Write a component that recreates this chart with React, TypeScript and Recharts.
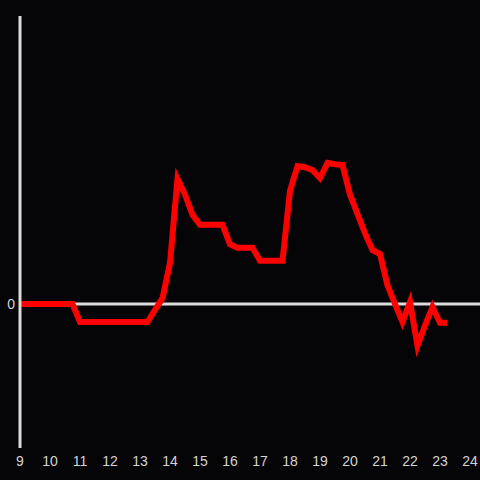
import { LineChart, Line, XAxis, YAxis, ReferenceLine } from 'recharts';

// 15-minute samples
const HOURS = [
  9, 9.25, 9.5, 9.75, 10, 10.25, 10.5, 10.75, 11, 11.25, 11.5, 11.75, 12, 12.25, 12.5, 12.75,
  13, 13.25, 13.5, 13.75, 14, 14.25, 14.5, 14.75, 15, 15.25, 15.5, 15.75, 16, 16.25, 16.5,
  16.75, 17, 17.25, 17.5, 17.75, 18, 18.25, 18.5, 18.75, 19, 19.25, 19.5, 19.75, 20, 20.25,
  20.5, 20.75, 21, 21.25, 21.5, 21.75, 22, 22.25, 22.5, 22.75, 23, 23.25,
];
const VALUES = [
  0, 0, 0, 0, 0, 0, 0, 0, -0.125, -0.125, -0.125, -0.125, -0.125, -0.125, -0.125, -0.125,
  -0.125, -0.125, -0.04, 0.04, 0.285, 0.87, 0.76, 0.62, 0.55, 0.55, 0.55, 0.55, 0.415, 0.39,
  0.39, 0.39, 0.3, 0.3, 0.3, 0.3, 0.785, 0.958, 0.95, 0.93, 0.875, 0.98, 0.97, 0.965, 0.76,
  0.625, 0.49, 0.375, 0.347, 0.13, 0.0, -0.125, 0.014, -0.29, -0.15, -0.02, -0.13, -0.13,
];
const X_TICKS = [9, 10, 11, 12, 13, 14, 15, 16, 17, 18, 19, 20, 21, 22, 23, 24];
const Y_TICKS = [0];

const data = HOURS.map((h, i) => ({ hour: h, value: VALUES[i] }));

const tickStyle = { fill: '#d4d4d4', fontSize: 14, fontFamily: 'Liberation Sans, Arial, sans-serif' };

export default function App() {
  return (
    <div style={{ position: 'absolute', left: 0, top: 0, width: 480, height: 480, background: '#050407' }}>
      <LineChart width={480} height={480} data={data} margin={{ top: 16, right: 0, bottom: 0, left: 0 }}>
        <XAxis
          dataKey="hour"
          type="number"
          domain={[9, 24.333]}
          ticks={X_TICKS}
          axisLine={false}
          tickLine={false}
          tickSize={0}
          tickMargin={8}
          height={32}
          tick={tickStyle}
          interval={0}
        />
        <YAxis
          type="number"
          domain={[-1, 2]}
          ticks={Y_TICKS}
          width={20}
          axisLine={{ stroke: '#dcdcdc', strokeWidth: 3 }}
          tickLine={false}
          tickSize={0}
          tickMargin={5}
          tick={tickStyle}
        />
        <ReferenceLine y={0} stroke="#dcdcdc" strokeWidth={3} />
        <Line
          dataKey="value"
          stroke="#ff0000"
          strokeWidth={6}
          dot={false}
          type="linear"
          isAnimationActive={false}
        />
      </LineChart>
    </div>
  );
}
